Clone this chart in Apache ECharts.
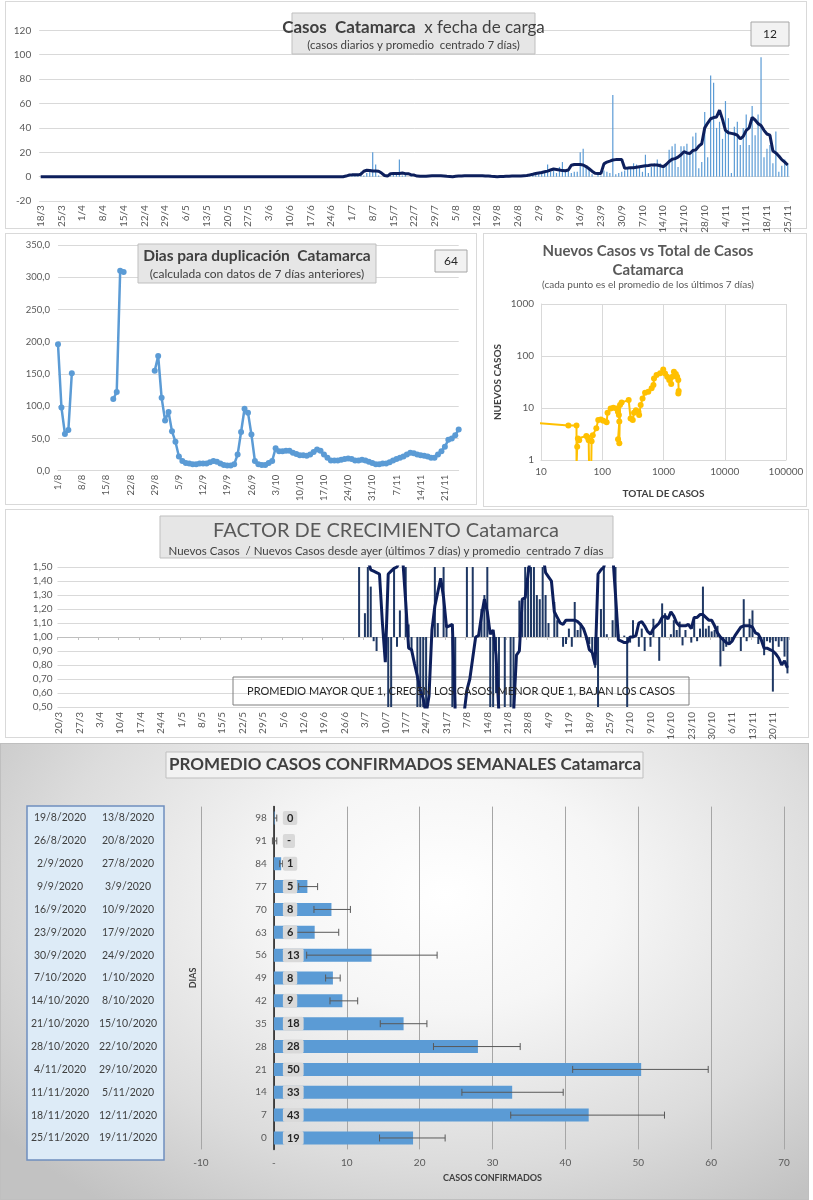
<!DOCTYPE html>
<html><head><meta charset="utf-8">
<script src="https://cdn.jsdelivr.net/npm/echarts/dist/echarts.min.js"></script>
<style>
html,body{margin:0;padding:0;background:#fff;}
#wrap{position:relative;width:813px;height:1200px;overflow:hidden;background:#fff;}
.panel{position:absolute;box-sizing:border-box;border:1px solid #d9d9d9;background:#fff;}
#chart{position:absolute;left:0;top:0;width:813px;height:1200px;}
</style></head><body>
<div id="wrap">
<div class="panel" style="left:5px;top:1px;width:802px;height:228px"></div>
<div class="panel" style="left:5px;top:233px;width:472px;height:272px"></div>
<div class="panel" style="left:483px;top:233px;width:324px;height:274px"></div>
<div class="panel" style="left:5px;top:509px;width:804px;height:229px"></div>
<div class="panel" style="left:0px;top:743px;width:809px;height:457px;border-color:#bfbfbf;background:radial-gradient(ellipse 70% 85% at 55% 33%, #ffffff 0%, #f6f6f6 30%, #dcdcdc 70%, #c2c2c2 100%);"></div>
<div id="chart"></div>
</div>
<script>
// ---------- DATA ----------
// Panel 1: daily cases from 18/3 (253 days) and 7-day centred average
const casosDiarios = [
0,0,0,0,0,0,0,0,0,0,0,0,0,0,0,0,0,0,0,0,
0,0,0,0,0,0,0,0,0,0,0,0,0,0,0,0,0,0,0,0,
0,0,0,0,0,0,0,0,0,0,0,0,0,0,0,0,0,0,0,0,
0,0,0,0,0,0,0,0,0,0,0,0,0,0,0,0,0,0,0,0,
0,0,0,0,0,0,0,0,0,0,0,0,0,0,0,0,0,0,0,0,
0,0,0,
0,2,1,1,2,4,1,3,4,20,
10,1,0,0,0,1,2,3,14,1,
2,0,1,0,0,0,1,0,0,1,
1,0,1,0,0,1,0,0,1,0,
1,0,1,1,0,1,1,0,1,0,
0,0,0,1,0,0,1,0,0,0,
1,0,1,2,3,2,4,3,
10,4,5,3,8,12,4,5,3,4,
4,20,23,8,7,2,0,2,1,5,
4,3,67,2,3,4,5,7,7,11,
10,8,4,18,3,8,11,14,11,8,
11,22,25,27,8,25,25,27,19,33,
36,7,12,53,16,83,77,40,45,31,
62,48,3,41,45,26,40,51,26,58,
34,51,98,16,23,26,11,37,4,9,
14,10
];
const casosPromedio = [
0,0,0,0,0,0,0,0,0,0,0,0,0,0,0,0,0,0,0,0,
0,0,0,0,0,0,0,0,0,0,0,0,0,0,0,0,0,0,0,0,
0,0,0,0,0,0,0,0,0,0,0,0,0,0,0,0,0,0,0,0,
0,0,0,0,0,0,0,0,0,0,0,0,0,0,0,0,0,0,0,0,
0,0,0,0,0,0,0,0,0,0,0,0,0,0,0,0,0,0,0,0,
0,0,0,
0.5,1.3,1.5,1.5,1.5,2.0,4.5,5.3,5.0,4.6,
4.6,4.5,3.0,1.0,0.5,2.4,2.6,2.6,2.7,3.0,
2.5,2.5,1.5,1.3,0.5,0.3,0.3,0.3,0.6,0.8,
0.8,0.8,0.8,0.6,0.3,0.2,0.0,0.3,0.5,0.6,
0.7,0.8,0.8,0.8,0.8,0.8,0.7,0.5,0.5,0.3,
0.2,0.0,0.1,0.2,0.3,0.4,0.5,0.5,0.5,0.6,
0.8,1.0,1.5,2.0,2.6,3.0,3.4,4.0,4.6,5.5,
6.3,5.9,5.5,5.0,4.9,5.5,9.4,10.0,10.0,10.0,
9.6,8.3,6.5,4.5,2.8,2.7,2.7,10.5,12.0,12.8,
13.7,14.0,14.1,14.2,7.0,7.1,7.3,7.4,7.8,8.2,
8.6,9.0,9.2,9.5,9.6,9.6,9.0,8.2,10.0,12.5,
14.3,14.8,16.0,18.0,20.5,19.5,19.0,21.5,22.0,25.0,
27.0,40.0,44.0,47.5,48.5,49.0,54.5,47.0,38.0,36.0,
35.5,35.0,34.0,31.0,33.0,38.0,40.0,48.5,46.5,43.5,
42.0,38.0,35.0,34.0,21.0,19.5,17.0,14.0,12.0,9.6
];
const yTicks1 = { min: -20, max: 120, interval: 20 };
const casosUltimo = '12';

// Panel 2: days to doubling, from 1/8 (117 days)
const diasDuplicacion = [
196,98,57,63,151,
null,null,null,null,null,null,null,null,null,null,null,
111,122,310,308,
null,null,null,null,null,null,null,null,
155,178,113,78,91,61,45,22,15,12,
11,10,10,11,11,11,13,15,14,11,
9,8,8,10,25,60,96,90,56,15,
10,9,9,12,15,35,30,30,31,31,
28,26,24,24,23,25,29,33,31,25,
20,16,16,16,17,18,19,18,16,16,
17,16,14,12,10,10,11,11,13,16,
18,20,22,25,28,27,25,24,23,22,
20,20,25,30,37,48,50,55,64
];
const duplicacionUltimo = '64';

// Panel 3: new cases vs total cases (log-log)
const totalCasos = [8,28,38,38,39,40,42,55,58,60,61,66,67,70,80,86,95,104,118,122,137,152,171,180,187,190,181,190,195,207,270,290,315,330,355,390,400,424,455,500,565,640,685,700,770,880,990,1060,1150,1240,1335,1400,1480,1590,1670,1745,1770,1745];
const nuevosCasos = [5.2,4.6,4.6,0.7,1.8,2.6,2.4,2.9,2.7,2.4,0.7,0.7,2.3,3.0,4.1,5.9,6.0,5.7,5.3,8.1,9.8,10.1,9.8,8.5,7.3,5.5,2.5,2.1,11.4,12.7,14.3,6.3,5.9,8.1,9.1,8.5,7.3,11.4,15.3,19.7,20.6,23.9,27.7,37,43,46.5,55,46,40,34.6,29,40,50,45,40,34.6,21.3,19];

// Panel 4: growth factor, categories from 20/3 (251 days)
const FACTOR_BAR_START = 102;   // first day index with a bar value
const factorDiario = [
null,2.0,null,1.17,2.0,1.36,0.97,0.9,1.0,1.0,
1.0,0.3,0.3,1.6,0.93,1.19,1.0,2.0,1.09,0.9,
1.0,0.3,0.3,0.3,0.3,1.0,1.0,2.0,1.1,1.0,
2.0,1.09,1.0,0.3,0.3,1.0,1.0,1.0,2.0,1.0,
2.0,1.0,1.02,1.2,1.3,2.0,0.3,0.3,0.6,0.3,
1.0,0.3,1.0,0.3,0.3,1.0,1.26,1.27,2.0,2.0,
1.5,2.0,1.3,1.27,2.0,1.3,1.1,1.0,1.25,1.12,
1.0,0.93,0.95,1.06,0.93,1.25,1.05,1.1,1.0,0.98,
0.95,0.9,0.78,0.3,1.2,2.0,1.02,1.0,1.12,2.0,
1.02,1.0,1.01,0.3,0.96,1.12,1.0,0.93,1.06,0.9,
1.0,0.93,1.13,1.0,0.83,1.24,1.17,1.0,1.02,1.12,
1.05,1.11,0.94,1.05,1.0,0.96,1.13,0.97,1.06,1.36,
1.06,1.08,1.04,1.05,1.08,0.79,0.9,0.93,0.96,0.97,
1.0,1.0,0.9,1.27,0.97,1.13,1.19,1.0,0.95,0.98,
0.87,0.97,0.96,0.61,0.97,0.93,0.97,0.86,0.74
];
const FACTOR_AVG_START = 106;
const factorPromedio = [
1.55,1.48,1.47,1.46,1.45,1.1,0.82,1.45,1.47,1.49,
1.5,1.55,1.55,1.25,0.92,0.91,0.81,0.72,0.62,0.56,
0.45,0.58,1.05,1.22,1.32,1.42,1.28,1.07,1.08,1.09,
0.45,0.4,0.4,0.45,0.62,0.7,0.85,1.0,1.01,1.15,
1.27,1.18,1.02,1.05,0.87,0.45,0.4,0.4,0.4,0.4,
0.45,0.87,0.9,1.27,1.28,1.45,1.6,1.6,1.6,1.6,
1.6,1.46,1.43,1.4,1.18,1.14,1.1,1.09,1.12,1.12,
1.12,1.12,1.11,1.09,1.06,1.0,0.91,0.89,0.8,1.45,
1.48,1.5,1.6,1.6,1.6,1.3,0.98,0.97,0.96,0.96,
1.0,1.0,1.01,1.1,1.11,1.08,1.04,1.02,1.06,1.08,
1.1,1.14,1.15,1.13,1.18,1.15,1.1,1.08,1.08,1.08,
1.09,1.06,1.14,1.14,1.16,1.16,1.14,1.12,1.12,1.08,
1.03,1.0,0.98,0.96,0.95,0.97,1.01,1.04,1.07,1.08,
1.08,1.08,1.07,1.03,1.02,0.98,0.92,0.92,0.91,0.9,
0.88,0.85,0.8,0.83,0.78
];
const FACTOR_BASE = 1;

// Panel 5: weekly averages
const diasCat = ['98','91','84','77','70','63','56','49','42','35','28','21','14','7','0'];
const promedioSemanal = [0.1,0,1.0,4.6,7.9,5.6,13.4,8.1,9.4,17.8,28.0,50.4,32.7,43.2,19.1];
const errorBajo = [-0.05,-0.2,0.8,3.4,5.5,2.6,4.5,7.1,7.7,14.6,21.9,41.0,25.8,32.5,14.5];
const errorAlto = [0.4,0.4,1.2,6.0,10.5,8.9,22.4,9.1,11.5,21.0,33.8,59.6,39.7,53.6,23.5];
const semanaFin = ['19/8/2020','26/8/2020','2/9/2020','9/9/2020','16/9/2020','23/9/2020','30/9/2020','7/10/2020','14/10/2020','21/10/2020','28/10/2020','4/11/2020','11/11/2020','18/11/2020','25/11/2020'];
const semanaInicio = ['13/8/2020','20/8/2020','27/8/2020','3/9/2020','10/9/2020','17/9/2020','24/9/2020','1/10/2020','8/10/2020','15/10/2020','22/10/2020','29/10/2020','5/11/2020','12/11/2020','19/11/2020'];
const xRange5 = { min: -10, max: 70, interval: 10 };

// ---------- HELPERS ----------
function dayLabels(y, m, d, n) {
  const out = []; const dt = new Date(y, m - 1, d);
  for (let i = 0; i < n; i++) { out.push(dt.getDate() + '/' + (dt.getMonth() + 1)); dt.setDate(dt.getDate() + 1); }
  return out;
}
const casosDates = dayLabels(2020, 3, 18, casosDiarios.length);
const dupDates = dayLabels(2020, 8, 1, diasDuplicacion.length);
const factorDates = dayLabels(2020, 3, 20, 251);

const factorBarData = factorDates.map((_, i) => {
  const k = i - FACTOR_BAR_START; const v = (k >= 0 && k < factorDiario.length) ? factorDiario[k] : null;
  return v == null ? null : +(v - FACTOR_BASE).toFixed(4);
});
const factorAvgData = factorDates.map((_, i) => {
  const k = i - FACTOR_AVG_START; const v = (k >= 0 && k < factorPromedio.length) ? factorPromedio[k] : null;
  return v == null ? null : +(v - FACTOR_BASE).toFixed(4);
});
const logPairs = totalCasos.map((t, i) => [t, nuevosCasos[i]]);
const errData = diasCat.map((c, i) => [i, errorBajo[i], errorAlto[i]]);

const FONT = 'Lato, "Liberation Sans", sans-serif';
const LBL = '#595959';
const GRIDC = '#d9d9d9';
const comma = (v, d) => v.toFixed(d).replace('.', ',');

// grid 5 layout; the category axis crosses the value axis at 0
const G5 = { left: 201, right: 29, top: 806.6, bottom: 50.6 };
const G5width = 813 - G5.left - G5.right;
const zeroOffset5 = -(0 - xRange5.min) / (xRange5.max - xRange5.min) * G5width;

function txt(x, y, text, size, opts) {
  opts = opts || {};
  return { type: 'text', z: 100, x: x, y: y, style: {
    text: text, fill: opts.color || '#404040',
    font: (opts.weight || 'normal') + ' ' + size + 'px ' + FONT,
    align: opts.align || 'center', verticalAlign: 'middle',
    textAlign: opts.align || 'center', textVerticalAlign: 'middle', rich: opts.rich } };
}
function box(x, y, w, h, fill, stroke, lw) {
  return { type: 'rect', z: 90, shape: { x: x, y: y, width: w, height: h },
    style: { fill: fill, stroke: stroke, lineWidth: lw || 1 } };
}

const chart = echarts.init(document.getElementById('chart'), null, { renderer: 'canvas' });

const option = {
  animation: false,
  textStyle: { fontFamily: FONT },
  grid: [
    { left: 39.2, right: 23.8, top: 30.3, bottom: 998.9, outerBoundsMode: 'none' },
    { left: 58, right: 354.3, top: 245, bottom: 729.3, outerBoundsMode: 'none' },
    { left: 541, right: 27, top: 304, bottom: 740, outerBoundsMode: 'none' },
    { left: 57.5, right: 24.1, top: 567, bottom: 493, outerBoundsMode: 'none' },
    Object.assign({ outerBoundsMode: 'none' }, G5)
  ],
  xAxis: [
    { gridIndex: 0, type: 'category', data: casosDates,
      axisLine: { onZero: true, lineStyle: { color: GRIDC } }, axisTick: { show: false },
      axisLabel: { interval: 6, rotate: 90, margin: 4, fontSize: 10, color: LBL, fontFamily: FONT } },
    { gridIndex: 1, type: 'category', data: dupDates, boundaryGap: false,
      axisLine: { lineStyle: { color: GRIDC } }, axisTick: { show: false },
      axisLabel: { interval: 6, rotate: 90, margin: 4, fontSize: 9.5, color: LBL, fontFamily: FONT } },
    { gridIndex: 2, type: 'log', logBase: 10, min: 10, max: 100000,
      name: 'TOTAL DE CASOS', nameLocation: 'middle', nameGap: 29,
      nameTextStyle: { fontSize: 10, fontWeight: 'bold', color: '#404040', fontFamily: FONT },
      axisLine: { lineStyle: { color: GRIDC } }, axisTick: { show: false },
      splitLine: { show: true, lineStyle: { color: GRIDC } },
      axisLabel: { margin: 7, fontSize: 10, color: LBL, fontFamily: FONT, formatter: v => String(v) } },
    { gridIndex: 3, type: 'category', data: factorDates,
      axisLine: { show: false, onZero: false }, axisTick: { show: false },
      axisLabel: { interval: 6, rotate: 90, margin: 5, fontSize: 10, color: LBL, fontFamily: FONT } },
    { gridIndex: 3, type: 'category', data: factorDates, position: 'bottom',
      axisLine: { show: true, onZero: true, lineStyle: { color: '#bfbfbf' } },
      axisTick: { show: true, interval: 6, length: 3, lineStyle: { color: '#bfbfbf' } },
      axisLabel: { show: false } },
    { gridIndex: 4, type: 'value', min: xRange5.min, max: xRange5.max, interval: xRange5.interval,
      name: 'CASOS CONFIRMADOS', nameLocation: 'middle', nameGap: 24,
      nameTextStyle: { fontSize: 9, fontWeight: 'bold', color: '#404040', fontFamily: FONT },
      axisLine: { show: false }, axisTick: { show: false },
      splitLine: { show: true, lineStyle: { color: '#a6a6a6' } },
      axisLabel: { margin: 8, fontSize: 10, color: LBL, fontFamily: FONT, formatter: v => v === 0 ? '-' : String(v) } }
  ],
  yAxis: [
    { gridIndex: 0, type: 'value', min: yTicks1.min, max: yTicks1.max, interval: yTicks1.interval,
      axisLine: { show: false }, axisTick: { show: false },
      splitLine: { lineStyle: { color: GRIDC } },
      axisLabel: { margin: 8, fontSize: 10, color: LBL, fontFamily: FONT } },
    { gridIndex: 1, type: 'value', min: 0, max: 350, interval: 50,
      axisLine: { show: false }, axisTick: { show: false },
      splitLine: { lineStyle: { color: GRIDC } },
      axisLabel: { margin: 8, fontSize: 9.5, color: LBL, fontFamily: FONT, formatter: v => comma(v, 1) } },
    { gridIndex: 2, type: 'log', logBase: 10, min: 1, max: 1000,
      name: 'NUEVOS CASOS', nameLocation: 'middle', nameGap: 38,
      nameTextStyle: { fontSize: 10, fontWeight: 'bold', color: '#404040', fontFamily: FONT },
      axisLine: { show: true, lineStyle: { color: GRIDC } }, axisTick: { show: false },
      splitLine: { show: true, lineStyle: { color: GRIDC } },
      axisLabel: { margin: 7, fontSize: 10, color: LBL, fontFamily: FONT, formatter: v => String(v) } },
    { gridIndex: 3, type: 'value', min: -0.5, max: 0.5, interval: 0.1,
      axisLine: { show: false }, axisTick: { show: false },
      splitLine: { lineStyle: { color: GRIDC } },
      axisLabel: { margin: 5, fontSize: 10, color: LBL, fontFamily: FONT, formatter: v => comma(v + FACTOR_BASE, 2) } },
    { gridIndex: 4, type: 'category', data: diasCat, inverse: true, position: 'left', offset: zeroOffset5,
      name: 'DIAS', nameLocation: 'middle', nameGap: 76,
      nameTextStyle: { fontSize: 9, fontWeight: 'bold', color: '#404040', fontFamily: FONT },
      axisLine: { show: true, onZero: false, lineStyle: { color: '#1a1a1a', width: 1.5 } }, axisTick: { show: false },
      axisLabel: { margin: 7, fontSize: 10, color: LBL, fontFamily: FONT } },
    { gridIndex: 4, type: 'category', data: semanaInicio, inverse: true, position: 'left', offset: 73,
      axisLine: { show: false, onZero: false }, axisTick: { show: false },
      axisLabel: { margin: 0, align: 'center', fontSize: 10.5, color: '#404040', fontFamily: FONT } },
    { gridIndex: 4, type: 'category', data: semanaFin, inverse: true, position: 'left', offset: 141,
      axisLine: { show: false, onZero: false }, axisTick: { show: false },
      axisLabel: { margin: 0, align: 'center', fontSize: 10.5, color: '#404040', fontFamily: FONT } }
  ],
  series: [
    { type: 'bar', xAxisIndex: 0, yAxisIndex: 0, data: casosDiarios, barWidth: 1.2,
      itemStyle: { color: '#5b9bd5' }, silent: true },
    { type: 'line', xAxisIndex: 0, yAxisIndex: 0, data: casosPromedio, showSymbol: false,
      lineStyle: { color: '#0d1f5c', width: 3 }, itemStyle: { color: '#0d1f5c' }, z: 3 },
    { type: 'line', xAxisIndex: 1, yAxisIndex: 1, data: diasDuplicacion, connectNulls: false,
      symbol: 'circle', symbolSize: 6, showSymbol: true, showAllSymbol: true,
      lineStyle: { color: '#5b9bd5', width: 2.5 }, itemStyle: { color: '#5b9bd5' } },
    { type: 'line', xAxisIndex: 2, yAxisIndex: 2, data: logPairs, clip: true,
      symbol: 'circle', symbolSize: 6, showSymbol: true,
      lineStyle: { color: '#ffc000', width: 2 }, itemStyle: { color: '#ffc000' } },
    { type: 'bar', xAxisIndex: 3, yAxisIndex: 3, data: factorBarData, barWidth: 2, clip: true,
      itemStyle: { color: '#1f3864' } },
    { type: 'line', xAxisIndex: 3, yAxisIndex: 3, data: factorAvgData, showSymbol: false, clip: true,
      connectNulls: false, lineStyle: { color: '#0d1f5c', width: 3 }, z: 3 },
    { type: 'bar', xAxisIndex: 5, yAxisIndex: 4, data: promedioSemanal, barWidth: 13, barGap: '-100%',
      itemStyle: { color: '#5b9bd5' }, z: 2 },
    { type: 'custom', xAxisIndex: 5, yAxisIndex: 4, data: errData, encode: { x: [1, 2], y: 0 }, z: 3,
      renderItem: function (params, api) {
        const c = api.value(0), lo = api.value(1), hi = api.value(2);
        const p1 = api.coord([lo, c]), p2 = api.coord([hi, c]);
        const h = 3.5, st = { stroke: '#595959', lineWidth: 1 };
        return { type: 'group', children: [
          { type: 'line', shape: { x1: p1[0], y1: p1[1], x2: p2[0], y2: p2[1] }, style: st },
          { type: 'line', shape: { x1: p1[0], y1: p1[1] - h, x2: p1[0], y2: p1[1] + h }, style: st },
          { type: 'line', shape: { x1: p2[0], y1: p2[1] - h, x2: p2[0], y2: p2[1] + h }, style: st }
        ] };
      } },
    { type: 'bar', xAxisIndex: 5, yAxisIndex: 4, data: promedioSemanal, barWidth: 13, barGap: '-100%',
      itemStyle: { color: 'rgba(0,0,0,0)' }, z: 5,
      label: { show: true, position: 'insideLeft', distance: 9,
        formatter: p => p.value === 0 ? '-' : String(Math.round(p.value)),
        backgroundColor: '#d9d9d9', padding: [2, 4, 1, 4], borderRadius: 2,
        fontSize: 11, fontWeight: 'bold', color: '#262626', fontFamily: FONT } }
  ],
  graphic: [
    // Panel 1 title
    box(292, 13, 243, 41, '#e6e6e6', '#bfbfbf'),
    txt(413.5, 28, '{b|Casos  Catamarca}{n|  x fecha de carga}', 17, { rich: {
      b: { fontSize: 17, fontWeight: 'bold', fontFamily: FONT, fill: '#404040' },
      n: { fontSize: 17, fontWeight: 'normal', fontFamily: FONT, fill: '#404040' } } }),
    txt(413.5, 45, '(casos diarios y promedio  centrado 7 días)', 11.5, { color: '#404040' }),
    box(751, 22, 38, 24, '#f2f2f2', '#a6a6a6'),
    txt(770, 34, casosUltimo, 12, { color: '#262626' }),
    // Panel 2 title
    box(138, 244, 238, 39, '#e6e6e6', '#bfbfbf'),
    txt(257, 256, 'Dias para duplicación  Catamarca', 15.5, { weight: 'bold', color: '#404040' }),
    txt(257, 274, '(calculada con datos de 7 días anteriores)', 12, { color: '#404040' }),
    box(435, 250, 32, 22, '#f2f2f2', '#a6a6a6'),
    txt(451, 261, duplicacionUltimo, 12, { color: '#262626' }),
    // Panel 3 title
    txt(648, 251, 'Nuevos Casos vs Total de Casos', 15, { weight: 'bold', color: '#595959' }),
    txt(648, 270, 'Catamarca', 15, { weight: 'bold', color: '#595959' }),
    txt(648, 285, '(cada punto es el promedio de los últimos 7 días)', 10, { color: '#595959' }),
    // Panel 4 title
    box(160, 516, 453, 42, '#e6e6e6', '#bfbfbf'),
    txt(386, 531, 'FACTOR DE CRECIMIENTO Catamarca', 20, { color: '#595959' }),
    txt(386, 551, 'Nuevos Casos  / Nuevos Casos desde ayer (últimos 7 días) y promedio  centrado 7 días', 11.5, { color: '#404040' }),
    { type: 'rect', z: 1, shape: { x: 233, y: 677, width: 456, height: 28 },
      style: { fill: 'none', stroke: '#7f7f7f', lineWidth: 1 } },
    txt(461, 691, 'PROMEDIO MAYOR QUE 1, CRECEN LOS CASOS, MENOR QUE 1, BAJAN LOS CASOS', 11, { color: '#262626' }),
    // Panel 5 title and table box
    box(166, 752, 477, 26, '#f2f2f2', '#bfbfbf'),
    txt(405, 765, 'PROMEDIO CASOS CONFIRMADOS SEMANALES Catamarca', 17, { weight: 'bold', color: '#404040' }),
    { type: 'rect', z: -1, shape: { x: 27, y: 806, width: 137, height: 354 },
      style: { fill: '#ddebf7', stroke: '#6f8fbf', lineWidth: 1.5 } }
  ]
};
chart.setOption(option);
</script>
</body></html>
